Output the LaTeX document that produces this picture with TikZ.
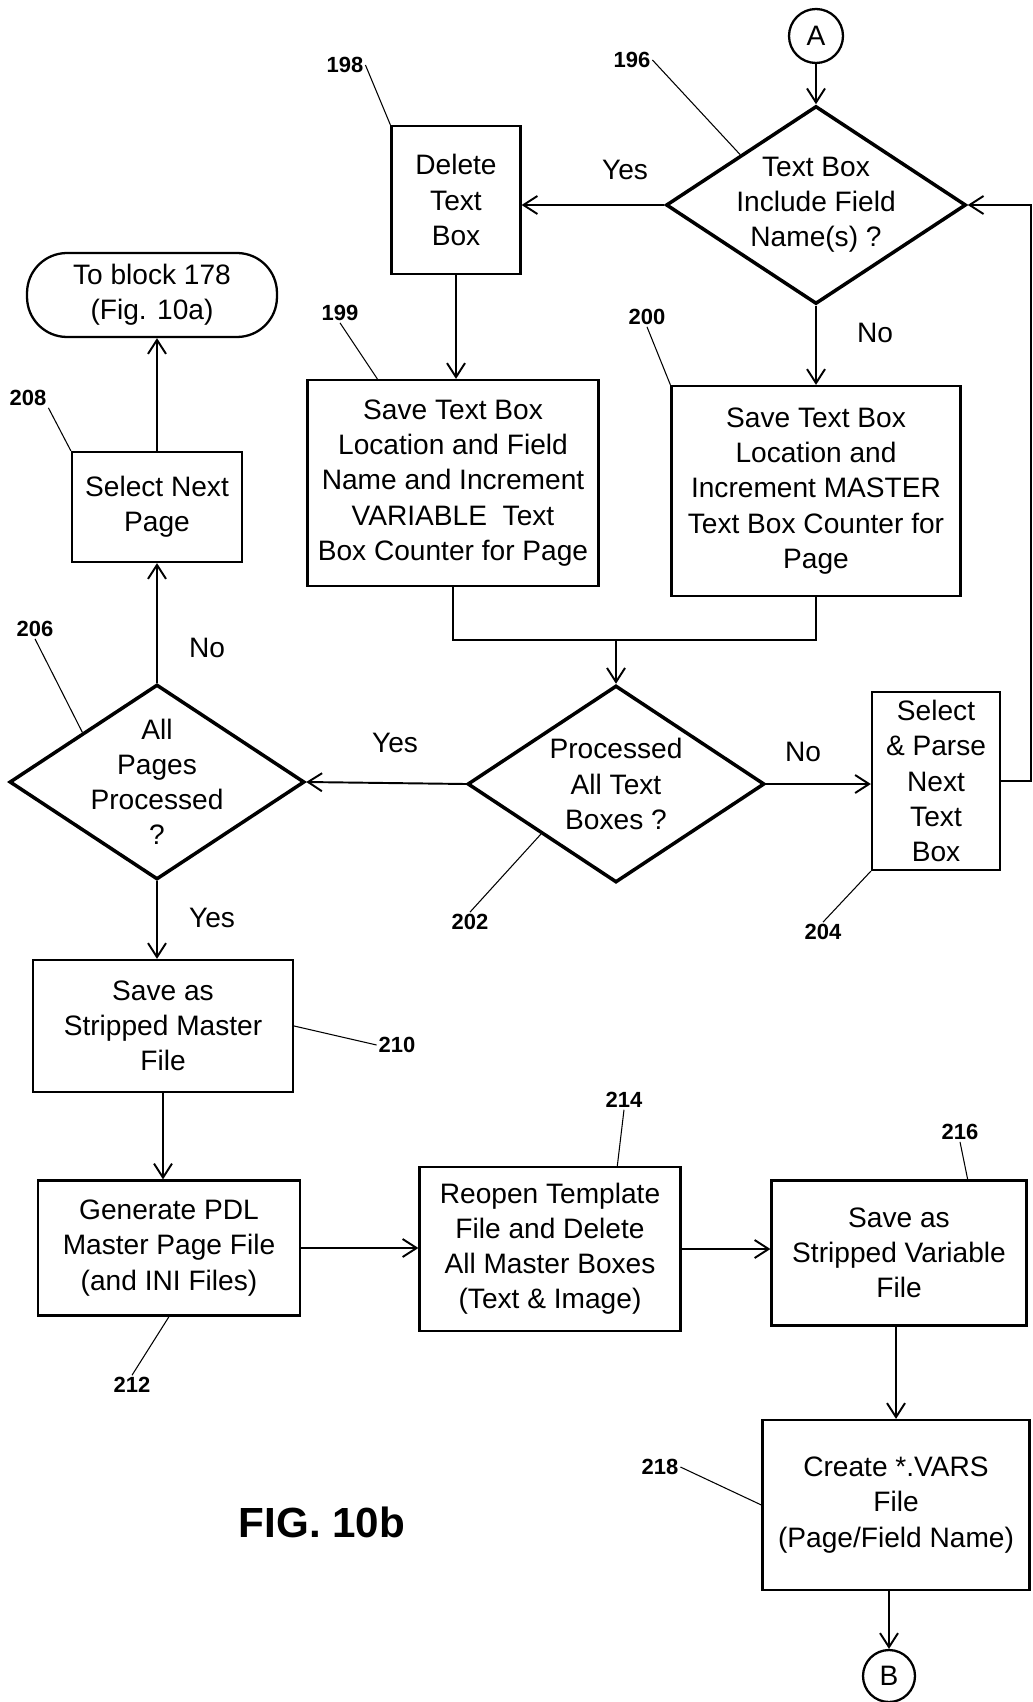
\documentclass[tikz,border=0pt]{standalone}
\usepackage{fontspec}
\setmainfont{Liberation Sans}
\usetikzlibrary{shapes.geometric,arrows.meta}
\begin{document}
\begin{tikzpicture}[x=0.02cm,y=-0.02cm,
    font=\fontsize{16}{20}\selectfont,
    >={Straight Barb[length=2.8mm,width=3.6mm]},
    box/.style={draw,line width=1.3pt,align=center,inner sep=0pt},
    decision/.style={diamond,draw,line width=2pt,align=center,inner sep=0pt},
    conn/.style={line width=1.1pt},
    refnum/.style={font=\fontsize{12.5}{14}\selectfont\bfseries,inner sep=1pt},
    leader/.style={line width=0.6pt}]
  \useasboundingbox (0,0) rectangle (1033,1702);

  \node[circle,draw,line width=1.3pt,minimum size=1.08cm,inner sep=0pt] (A) at (816,36) {A};
  \node[decision,minimum width=6cm,minimum height=3.96cm,aspect=1.515,inner sep=-1pt] (d196) at (816,205) {Text Box\\Include Field\\Name(s) ?};
  \node[box,minimum width=2.58cm,minimum height=2.96cm] (delete) at (456,200) {Delete\\Text\\Box};
  \node[box,minimum width=5.82cm,minimum height=4.12cm] (save199) at (453,483) {Save Text Box\\Location and Field\\Name and Increment\\VARIABLE~ Text\\Box Counter for Page};
  \node[box,minimum width=5.78cm,minimum height=4.2cm] (save200) at (816,491) {Save Text Box\\Location and\\Increment MASTER\\Text Box Counter for\\Page};
  \node[decision,minimum width=5.94cm,minimum height=3.94cm,aspect=1.508] (d202) at (616,784) {Processed\\All Text\\Boxes ?};
  \node[box,minimum width=2.56cm,minimum height=3.56cm] (select204) at (936,781) {Select\\\& Parse\\Next\\Text\\Box};
  \node[decision,minimum width=5.9cm,minimum height=3.9cm,aspect=1.513,inner sep=-5pt] (d206) at (157,782) {All\\Pages\\Processed\\?};
  \node[box,minimum width=3.4cm,minimum height=2.2cm] (select208) at (157,507) {Select Next\\Page};
  \node[box,rounded corners=0.8cm,minimum width=5cm,minimum height=1.68cm] (term) at (152,295) {To block 178\\(Fig. 10a)};
  \node[box,minimum width=5.2cm,minimum height=2.64cm] (save210) at (163,1026) {Save as\\Stripped Master\\File};
  \node[box,minimum width=5.24cm,minimum height=2.7cm] (gen212) at (169,1248) {Generate PDL\\Master Page File\\(and INI Files)};
  \node[box,minimum width=5.22cm,minimum height=3.28cm] (reopen214) at (550,1249) {Reopen Template\\File and Delete\\All Master Boxes\\(Text \& Image)};
  \node[box,minimum width=5.1cm,minimum height=2.9cm] (save216) at (899,1253) {Save as\\Stripped Variable\\File};
  \node[box,minimum width=5.34cm,minimum height=3.4cm] (create218) at (896,1505) {Create *.VARS\\File\\(Page/Field Name)};
  \node[circle,draw,line width=1.3pt,minimum size=1.04cm,inner sep=0pt] (B) at (889,1676) {B};

  \node (yes196) at (625,170) {Yes};
  \node (no196) at (875,333) {No};
  \node (yes202) at (395,743) {Yes};
  \node (no202) at (803,752) {No};
  \node (no206) at (207,648) {No};
  \node (yes206) at (212,918) {Yes};
  \node[font=\fontsize{24}{28}\selectfont\bfseries] (fig) at (322,1522) {FIG. 10b};

  \draw[conn,->] (A) -- (d196);
  \draw[conn,->] (d196.west) -- (d196.west -| delete.east);
  \draw[conn,->] (d196) -- (save200);
  \draw[conn,->] (delete) -- (delete |- save199.north);
  \coordinate (merge) at (616,640);
  \draw[conn] (save199.south) |- (merge);
  \draw[conn] (save200.south) |- (merge);
  \draw[conn,->] (merge) -- (d202.north);
  \draw[conn,->] (d202.east) -- (d202.east -| select204.west);
  \coordinate (loop) at (1031,205);
  \draw[conn,->] (select204.east) -| (loop) -- (d196.east);
  \draw[conn,->] (d202.west) -- (d206.east);
  \draw[conn,->] (d206) -- (select208);
  \draw[conn,->] (select208) -- (select208 |- term.south);
  \draw[conn,->] (d206) -- (d206 |- save210.north);
  \draw[conn,->] (save210) -- (save210 |- gen212.north);
  \draw[conn,->] (gen212.east) -- (gen212.east -| reopen214.west);
  \draw[conn,->] (reopen214.east) -- (reopen214.east -| save216.west);
  \draw[conn,->] (create218.north |- save216.south) -- (create218.north);
  \draw[conn,->] (create218.south -| B) -- (B);

  \node[refnum] (l196) at (632,60) {196};
  \node[refnum] (l198) at (345,65) {198};
  \node[refnum] (l199) at (340,313) {199};
  \node[refnum] (l200) at (647,317) {200};
  \node[refnum] (l202) at (470,922) {202};
  \node[refnum] (l204) at (823,932) {204};
  \node[refnum] (l206) at (35,629) {206};
  \node[refnum] (l208) at (28,398) {208};
  \node[refnum] (l210) at (397,1045) {210};
  \node[refnum] (l212) at (132,1385) {212};
  \node[refnum] (l214) at (624,1100) {214};
  \node[refnum] (l216) at (960,1132) {216};
  \node[refnum] (l218) at (660,1467) {218};
  \draw[leader] (l196.east) -- (d196.north west);
  \draw[leader] (l198.east) -- (delete.north west);
  \draw[leader] (l199.south) -- (save199.126);
  \draw[leader] (l200.south) -- (save200.north west);
  \draw[leader] (l202.north) -- (d202.south west);
  \draw[leader] (l204.north) -- (select204.south west);
  \draw[leader] (l206.south) -- (d206.north west);
  \draw[leader] (l208.south east) -- (select208.north west);
  \draw[leader] (l210.west) -- (save210.east);
  \draw[leader] (l212.north) -- (gen212.south);
  \draw[leader] (l214.south) -- (reopen214.51);
  \draw[leader] (l216.south) -- (save216.47);
  \draw[leader] (l218.east) -- (create218.west);
\end{tikzpicture}
\end{document}
